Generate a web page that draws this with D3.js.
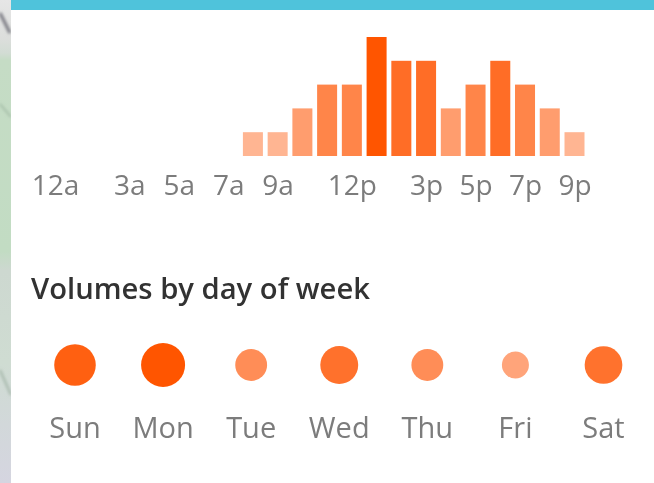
<!DOCTYPE html>
<html><head><meta charset="utf-8">
<style>html,body{margin:0;padding:0;background:#fff}svg{display:block}</style>
<script src="https://cdn.jsdelivr.net/npm/d3@7"></script></head>
<body><svg id="c" width="654" height="483"></svg>
<script>
const hours = d3.range(8, 22);
const hourVolumes = [1,1,2,3,3,5,4,4,2,3,4,3,2,1];
const hourTickValues = [0,3,5,7,9,12,15,17,19,21];
const hourTickLabels = ["12a","3a","5a","7a","9a","12p","3p","5p","7p","9p"];
const days = ["Sun","Mon","Tue","Wed","Thu","Fri","Sat"];
const dayVolumes = [90,100,50,75,50,30,74];
const title = "Volumes by day of week";
const font = "'Open Sans','Noto Sans',sans-serif";

const svg = d3.select("#c");
const defs = svg.append("defs");
const f = defs.append("filter").attr("id","soft").attr("x","-5%").attr("y","-5%").attr("width","110%").attr("height","110%");
f.append("feGaussianBlur").attr("stdDeviation",0.5);
const f2 = defs.append("filter").attr("id","soft2").attr("x","-50%").attr("y","-50%").attr("width","200%").attr("height","200%");
f2.append("feGaussianBlur").attr("stdDeviation",1.5);
const grad = defs.append("linearGradient").attr("id","strip").attr("x1",0).attr("x2",0).attr("y1",0).attr("y2",1);
[[0,"#e6e6e6"],[0.08,"#dcdedc"],[0.11,"#d2dcd4"],[0.125,"#c5dcc5"],[0.52,"#c2dcc3"],[0.56,"#cdd8d0"],[0.75,"#cfdcd2"],[0.88,"#d2d8da"],[1,"#d5d5e0"]]
  .forEach(s=>grad.append("stop").attr("offset",s[0]).attr("stop-color",s[1]));

svg.append("rect").attr("width",654).attr("height",483).attr("fill","#fff");
svg.append("rect").attr("width",11).attr("height",483).attr("fill","url(#strip)");
const strip = svg.append("g").attr("filter","url(#soft2)");
[["M0 13L10 33","#77777f",3],["M0 104L11 117","#9db5a0",1.5],["M0 370L11 395","#a3b5a8",2]]
  .forEach(l=>strip.append("path").attr("d",l[0]).attr("stroke",l[1]).attr("stroke-width",l[2]).attr("fill","none"));
svg.append("rect").attr("x",11).attr("width",643).attr("height",483).attr("fill","#fff");
svg.append("rect").attr("x",11).attr("width",643).attr("height",10).attr("fill","#4fc3db");

const x = d3.scaleLinear().domain([0,21]).range([55,574.5]);
const y = d3.scaleLinear().domain([0,5]).range([156,37]);
const barColor = d3.scaleLinear().domain([1,5]).range(["#ffb592","#ff5500"]);
const barW = 20;

svg.append("g").attr("filter","url(#soft)").selectAll("rect").data(hours).join("rect")
  .attr("x",h=>x(h)-barW/2).attr("width",barW)
  .attr("y",(h,i)=>y(hourVolumes[i])).attr("height",(h,i)=>y(0)-y(hourVolumes[i]))
  .attr("fill",(h,i)=>barColor(hourVolumes[i]));

const axis = d3.axisBottom(x).tickValues(hourTickValues).tickFormat((d,i)=>hourTickLabels[i]).tickSize(0);
const ax = svg.append("g").attr("transform","translate(0,156)").call(axis);
ax.select(".domain").remove();
ax.selectAll("text").attr("y",0).attr("dy",0).attr("transform","translate(0,38.5)")
  .attr("font-family",font).attr("font-size",28).attr("fill","#7c7c7c").attr("filter","url(#soft)");

svg.append("text").attr("x",31).attr("y",299).text(title)
  .attr("font-family",font).attr("font-size",29.2).attr("font-weight",600).attr("fill","#333").attr("filter","url(#soft)");

const dx = d3.scalePoint().domain(days).range([75,603.5]);
const r = d3.scaleLinear().domain([30,100]).range([13.5,22]);
const dayColor = d3.scaleLinear().domain([30,100]).range(["#ffa47a","#ff5500"]);

svg.append("g").selectAll("circle").data(days).join("circle")
  .attr("cx",d=>dx(d)).attr("cy",365)
  .attr("r",(d,i)=>r(dayVolumes[i])).attr("fill",(d,i)=>dayColor(dayVolumes[i]));

svg.append("g").selectAll("text").data(days).join("text")
  .attr("x",d=>dx(d)).attr("y",438).attr("text-anchor","middle").text(d=>d)
  .attr("font-family",font).attr("font-size",29).attr("fill","#7c7c7c").attr("filter","url(#soft)");
</script></body></html>
